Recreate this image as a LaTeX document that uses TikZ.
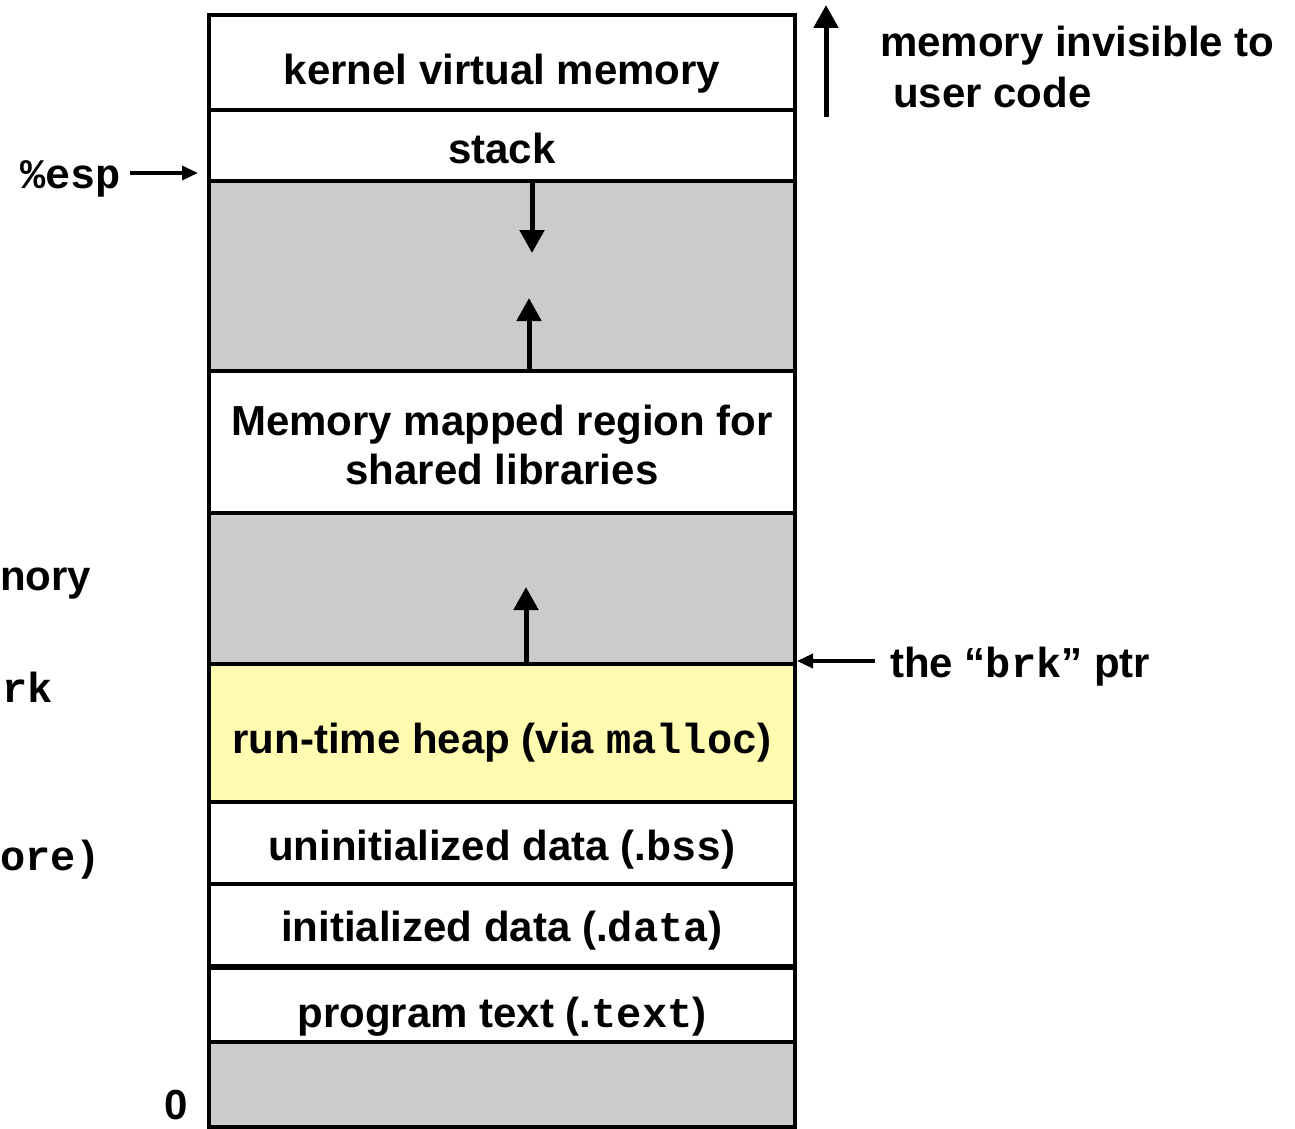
\documentclass[tikz,border=0pt]{standalone}
\usepackage{fontspec}
\setmainfont{Liberation Sans}
\setmonofont{Liberation Mono}
\usetikzlibrary{arrows.meta}

\definecolor{gapgray}{RGB}{203,203,203}
\definecolor{heapyellow}{RGB}{255,252,178}

\begin{document}
\begin{tikzpicture}[x=1pt,y=-1pt,
  lbl/.style={font=\fontsize{42}{50}\selectfont\bfseries, inner sep=0pt, anchor=base},
  rule/.style={line width=4pt, line cap=rect},
  growarr/.style={line width=5pt, -{Triangle[length=23pt,width=24pt]}},
  ptrarr/.style={line width=3.5pt, -{Triangle[length=16pt,width=14pt]}}]
\useasboundingbox (0,0) rectangle (1295,1129);

% region boundaries (left edge, right edge)
\coordinate (tl) at (209,15);
\coordinate (br) at (795,1127);

% background fills of the regions
\fill[gapgray]    (209,181)  rectangle (795,371);
\fill[gapgray]    (209,513)  rectangle (795,664);
\fill[heapyellow] (209,664)  rectangle (795,802);
\fill[gapgray]    (209,1042) rectangle (795,1127);

% outline and dividers
\draw[rule] (tl) rectangle (br);
\foreach \yy in {110,181,371,513,664,802,884,1042}
  \draw[rule] (209,\yy) -- (795,\yy);
\draw[line width=5.5pt] (209,967) -- (795,967);

% region labels
\node[lbl] (kvm)   at (502,85)  {kernel virtual memory};
\node[lbl] (stk)   at (502,163) {stack};
\node[lbl] (mmap1) at (502,435) {Memory mapped region for};
\node[lbl] (mmap2) at (502,484) {shared libraries};
\node[lbl] (heap)  at (502,753) {run-time heap (via \texttt{malloc})};
\node[lbl] (bss)   at (502,860) {uninitialized data (.\texttt{bss})};
\node[lbl] (data)  at (502,941) {initialized data (.\texttt{data})};
\node[lbl] (text)  at (502,1027) {program text (.\texttt{text})};

% growth arrows inside the free regions
\coordinate (stkfrom) at (532,181);
\coordinate (stkto)   at (532,253);
\coordinate (mmfrom)  at (529,371);
\coordinate (mmto)    at (529,298);
\coordinate (hpfrom)  at (526,664);
\coordinate (hpto)    at (526,587);
\draw[growarr] (stkfrom) -- (stkto);
\draw[growarr] (mmfrom) -- (mmto);
\draw[growarr] (hpfrom) -- (hpto);

% kernel region note
\coordinate (kfrom) at (826,117);
\coordinate (kto)   at (826,5);
\draw[growarr] (kfrom) -- (kto);
\node[lbl, anchor=base west] (inv1) at (880,57)  {memory invisible to};
\node[lbl, anchor=base west] (inv2) at (893,108) {user code};

% stack pointer
\node[lbl, anchor=base west] (esp) at (20,188) {\texttt{\%esp}};
\coordinate (espfrom) at (130,173);
\coordinate (espto)   at (198,173);
\draw[ptrarr] (espfrom) -- (espto);

% break pointer
\node[lbl, anchor=base west] (brk) at (890,677) {the “\texttt{brk}” ptr};
\coordinate (brkfrom) at (875,661);
\coordinate (brkto)   at (797,661);
\draw[ptrarr] (brkfrom) -- (brkto);

% address zero
\node[lbl, anchor=base] (zero) at (176,1119) {0};

% labels at the left margin
\node[lbl, anchor=base west] (lmem)  at (0,590) {nory};
\node[lbl, anchor=base west] (lbrk)  at (2,702) {\texttt{rk}};
\node[lbl, anchor=base west] (lcore) at (0,870) {\texttt{ore)}};
\end{tikzpicture}
\end{document}
